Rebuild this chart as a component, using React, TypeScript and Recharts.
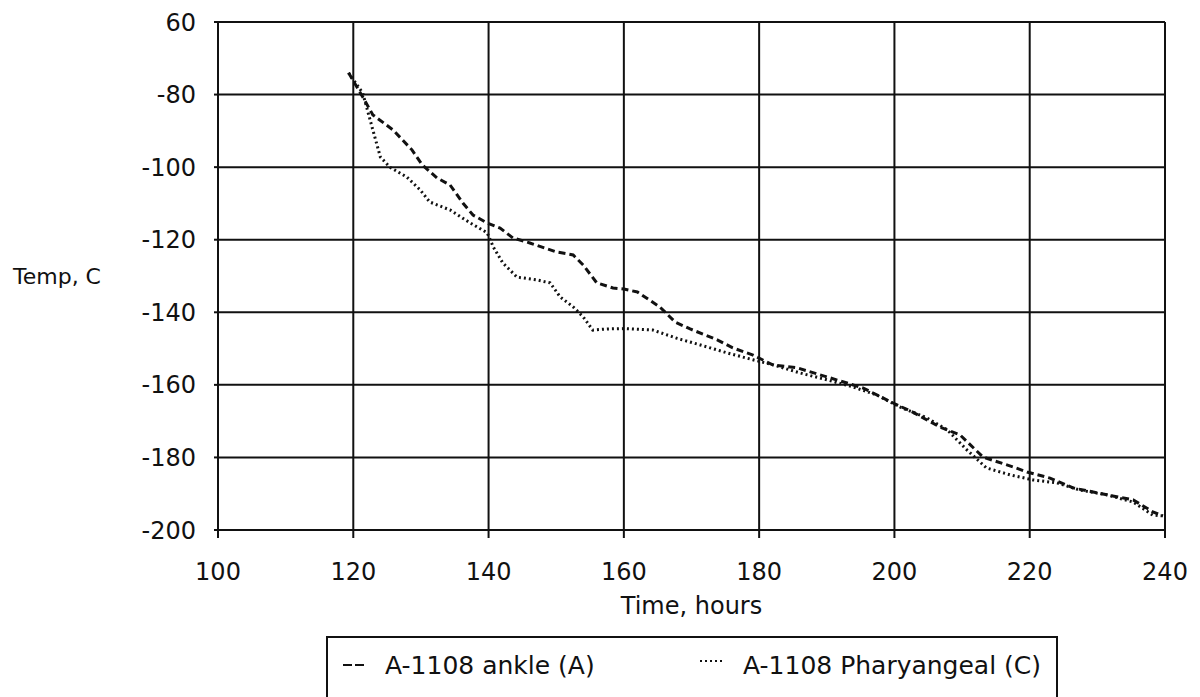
import { LineChart, Line, XAxis, YAxis, CartesianGrid, Legend } from "recharts";

const FONT = "'DejaVu Sans', sans-serif";

const xTicks = [100, 120, 140, 160, 180, 200, 220, 240];
const yTicks = [-200, -180, -160, -140, -120, -100, -80, -60];

// A-1108 ankle (A)
const ankleHours = [
  119.3, 121.4, 122.9, 125.9, 128.7, 130.2, 132.4, 134.3, 136.2, 137.7,
  139.8, 141.7, 143.6, 146.1, 150.1, 152.5, 154.0, 156.0, 158.4, 160.0,
  162.0, 165.3, 167.6, 169.8, 173.8, 176.1, 179.1, 182.0, 185.6, 190.0,
  193.0, 195.4, 199.8, 202.7, 206.7, 209.7, 213.1, 217.5, 219.6, 223.0,
  226.4, 231.4, 235.3, 238.2, 239.7,
];
const ankleTemps = [
  -74, -80.7, -85.6, -89.8, -95.3, -99.4, -103, -104.9, -109.9, -113.2,
  -115.4, -116.8, -119.5, -120.9, -123.4, -124.2, -127, -131.9, -133.3, -133.6,
  -134.4, -138.5, -142.7, -144.6, -147.6, -149.8, -151.8, -154.5, -155.3, -157.8,
  -159.5, -160.9, -165, -167.5, -171.6, -173.8, -179.9, -182.6, -184, -185.7,
  -188.4, -190.3, -191.7, -195, -196.1,
];

// A-1108 Pharyangeal (C)
const pharHours = [
  119.3, 121.4, 122.9, 124.0, 125.4, 127.9, 129.9, 131.3, 134.3, 137.3,
  139.8, 140.7, 142.1, 144.2, 147.2, 149.1, 150.6, 152.5, 154.0, 155.4,
  157.5, 160.0, 164.3, 167.9, 171.3, 175.3, 179.1, 182.1, 186.0, 190.0,
  193.9, 197.4, 200.8, 204.8, 207.8, 210.7, 213.6, 217.1, 220.5, 224.0,
  227.4, 231.4, 235.3, 238.2, 239.7,
];
const pharTemps = [
  -74, -79.6, -89.8, -97.2, -100, -102.7, -106.3, -109.6, -111.8, -115.4,
  -118.1, -122, -126.4, -130.3, -131.1, -131.9, -135.8, -138.5, -141.3, -144.9,
  -144.6, -144.5, -144.9, -147.2, -149, -151.2, -153.1, -154.5, -156.7, -158.6,
  -160.6, -162.8, -166.1, -169.1, -172.4, -177.9, -182.9, -184.8, -186.2, -187,
  -189, -190.3, -192.3, -195.9, -196.1,
];

const ankleData = ankleHours.map((t, i) => ({ t, temp: ankleTemps[i] }));
const pharData = pharHours.map((t, i) => ({ t, temp: pharTemps[i] }));

const tickStyle = { fontSize: 24, fill: "#111", fontFamily: FONT };

function LegendBox() {
  return (
    <div
      style={{
        position: "relative",
        width: 732,
        height: 70,
        border: "2px solid #111",
        boxSizing: "border-box",
        fontFamily: FONT,
        fontSize: 25,
        color: "#111",
        background: "#fff",
      }}
    >
      <svg width={24} height={10} style={{ position: "absolute", left: 15, top: 22 }}>
        <line x1={0} y1={5} x2={24} y2={5} stroke="#111" strokeWidth={2} strokeDasharray="9 3" />
      </svg>
      <span style={{ position: "absolute", left: 57, top: 13 }}>A-1108 ankle (A)</span>
      <svg width={24} height={10} style={{ position: "absolute", left: 372, top: 18 }}>
        <line x1={0} y1={5} x2={24} y2={5} stroke="#111" strokeWidth={2} strokeDasharray="2 3" />
      </svg>
      <span style={{ position: "absolute", left: 415, top: 13 }}>A-1108 Pharyangeal (C)</span>
    </div>
  );
}

export default function App() {
  return (
    <div style={{ position: "absolute", left: 0, top: 0, background: "#fff" }}>
      <LineChart width={1200} height={697} margin={{ top: 22, right: 35, bottom: 0, left: 0 }}>
        <CartesianGrid stroke="#111" strokeWidth={2} horizontalValues={yTicks} verticalValues={xTicks} />
        <XAxis
          type="number"
          dataKey="t"
          domain={[100, 240]}
          ticks={xTicks}
          allowDataOverflow
          height={97}
          tick={tickStyle}
          tickSize={8}
          tickMargin={25}
          axisLine={{ stroke: "#111", strokeWidth: 2 }}
          tickLine={{ stroke: "#111", strokeWidth: 2 }}
          label={{ value: "Time, hours", position: "insideTop", offset: 67, fontSize: 24, fill: "#111", fontFamily: FONT }}
        />
        <YAxis
          type="number"
          domain={[-200, -60]}
          ticks={yTicks}
          allowDataOverflow
          width={218}
          tick={tickStyle}
          tickSize={4}
          tickMargin={18}
          tickFormatter={(v: number) => (v === -60 ? "60" : String(v))}
          axisLine={{ stroke: "#111", strokeWidth: 2 }}
          tickLine={{ stroke: "#111", strokeWidth: 2 }}
          label={{ value: "Temp, C", position: "insideLeft", offset: 13, fontSize: 22, fill: "#111", fontFamily: FONT }}
        />
        <Legend
          content={() => <LegendBox />}
          wrapperStyle={{ position: "absolute", left: 326, top: 636, width: 732 }}
        />
        <Line
          data={ankleData}
          dataKey="temp"
          name="A-1108 ankle (A)"
          stroke="#111"
          strokeWidth={3}
          strokeDasharray="7 4"
          dot={false}
          type="linear"
          isAnimationActive={false}
        />
        <Line
          data={pharData}
          dataKey="temp"
          name="A-1108 Pharyangeal (C)"
          stroke="#111"
          strokeWidth={3}
          strokeDasharray="2 3"
          dot={false}
          type="linear"
          isAnimationActive={false}
        />
      </LineChart>
    </div>
  );
}
